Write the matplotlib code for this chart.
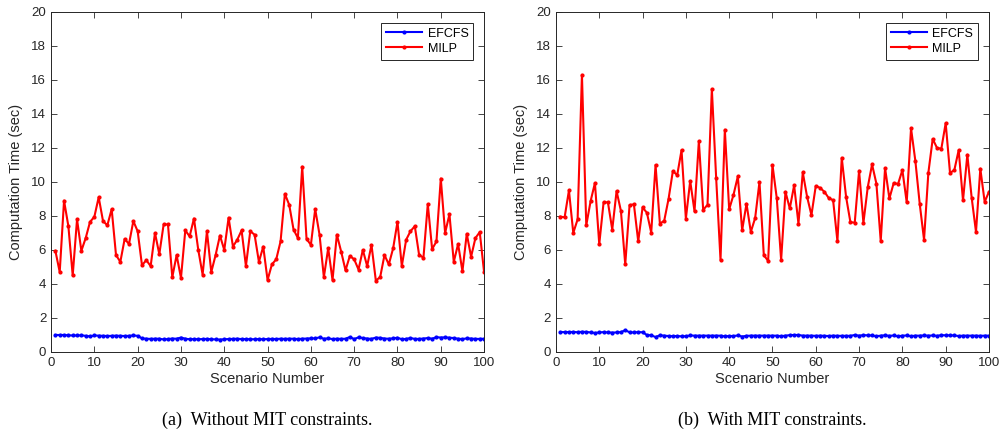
import numpy as np
import matplotlib
matplotlib.use("Agg")
import matplotlib.pyplot as plt

scenarios = np.arange(1, 101)

# (a) without MIT constraints
efcfs_a = [1.00, 1.00, 1.00, 0.98, 0.97, 0.97, 0.98, 0.95, 0.92, 0.97,
           0.96, 0.95, 0.94, 0.95, 0.96, 0.95, 0.94, 0.95, 0.97, 0.95,
           0.80, 0.78, 0.77, 0.78, 0.78, 0.74, 0.76, 0.79, 0.78, 0.85,
           0.78, 0.75, 0.76, 0.75, 0.76, 0.77, 0.75, 0.74, 0.73, 0.75,
           0.76, 0.77, 0.78, 0.76, 0.76, 0.75, 0.75, 0.76, 0.75, 0.76,
           0.77, 0.76, 0.78, 0.77, 0.78, 0.78, 0.76, 0.78, 0.79, 0.80,
           0.80, 0.86, 0.78, 0.80, 0.76, 0.78, 0.77, 0.78, 0.88, 0.76,
           0.86, 0.82, 0.79, 0.77, 0.85, 0.83, 0.79, 0.78, 0.80, 0.84,
           0.75, 0.77, 0.82, 0.77, 0.77, 0.79, 0.82, 0.78, 0.87, 0.85,
           0.86, 0.84, 0.82, 0.78, 0.76, 0.80, 0.79, 0.77, 0.77, 0.78]
milp_a = [5.95, 4.70, 8.90, 7.40, 4.50, 7.80, 5.95, 6.70, 7.65, 7.95,
          9.10, 7.70, 7.45, 8.40, 5.70, 5.30, 6.65, 6.35, 7.70, 7.10,
          5.10, 5.40, 5.05, 7.00, 5.75, 7.50, 7.50, 4.40, 5.70, 4.35,
          7.15, 6.80, 7.85, 6.00, 4.55, 7.10, 4.70, 5.70, 6.85, 6.00,
          7.90, 6.20, 6.60, 7.15, 5.05, 7.10, 6.90, 5.30, 6.20, 4.23,
          5.15, 5.45, 6.50, 9.30, 8.65, 7.20, 6.70, 10.90, 6.65, 6.30,
          8.40, 6.90, 4.40, 6.10, 4.23, 6.90, 5.90, 4.80, 5.65, 5.45,
          4.85, 6.00, 5.05, 6.30, 4.20, 4.40, 5.70, 5.15, 6.10, 7.65,
          5.05, 6.60, 7.10, 7.40, 5.70, 5.55, 8.70, 6.05, 6.50, 10.20,
          7.00, 8.10, 5.30, 6.35, 4.75, 6.95, 5.60, 6.70, 7.05, 4.70]

# (b) with MIT constraints
efcfs_b = [1.17, 1.17, 1.17, 1.18, 1.16, 1.19, 1.18, 1.15, 1.12, 1.15,
           1.17, 1.15, 1.14, 1.15, 1.17, 1.28, 1.16, 1.15, 1.17, 1.16,
           1.00, 0.98, 0.88, 0.98, 0.96, 0.94, 0.93, 0.94, 0.92, 0.93,
           0.97, 0.96, 0.96, 0.96, 0.96, 0.96, 0.96, 0.96, 0.92, 0.94,
           0.94, 0.97, 0.91, 0.95, 0.96, 0.96, 0.96, 0.96, 0.96, 0.96,
           0.96, 0.93, 0.96, 0.99, 1.00, 1.00, 0.96, 0.96, 0.96, 0.95,
           0.96, 0.95, 0.94, 0.96, 0.95, 0.95, 0.95, 0.95, 1.00, 0.96,
           0.99, 0.98, 0.97, 0.93, 0.96, 0.98, 0.95, 0.97, 0.92, 0.96,
           0.97, 0.93, 0.96, 0.96, 0.97, 0.96, 0.97, 0.95, 0.99, 0.98,
           0.98, 0.97, 0.94, 0.96, 0.96, 0.96, 0.96, 0.95, 0.96, 0.96]
milp_b = [7.96, 7.92, 9.50, 7.00, 7.80, 16.30, 7.45, 8.87, 9.94, 6.34,
          8.80, 8.80, 7.20, 9.46, 8.30, 5.15, 8.64, 8.68, 6.50, 8.50,
          8.19, 7.02, 11.00, 7.55, 7.72, 9.00, 10.64, 10.40, 11.87, 7.84,
          10.06, 8.27, 12.41, 8.35, 8.66, 15.47, 10.21, 5.41, 13.07, 8.39,
          9.24, 10.33, 7.16, 8.72, 7.06, 7.88, 10.00, 5.70, 5.35, 11.00,
          9.03, 5.41, 9.42, 8.44, 9.80, 7.55, 10.56, 9.12, 8.05, 9.77,
          9.65, 9.42, 9.05, 8.93, 6.52, 11.42, 9.12, 7.63, 7.61, 10.66,
          7.59, 9.69, 11.03, 9.90, 6.52, 10.82, 9.03, 9.94, 9.88, 10.70,
          8.80, 13.15, 11.23, 8.72, 6.60, 10.54, 12.53, 12.00, 11.96, 13.46,
          10.53, 10.70, 11.87, 8.91, 11.60, 9.07, 7.06, 10.78, 8.83, 9.42]

captions = ["(a)  Without MIT constraints.", "(b)  With MIT constraints."]

plt.rcParams['font.family'] = ['Liberation Sans', 'DejaVu Sans']
axis_color = '#262626'

fig = plt.figure(figsize=(10.01, 4.36), dpi=100)
lefts = [0.051, 0.5554]
panels = [(efcfs_a, milp_a), (efcfs_b, milp_b)]

for left, (efcfs, milp), cap in zip(lefts, panels, captions):
    ax = fig.add_axes([left, 0.1927, 0.4326, 0.780])
    ax.plot(scenarios, efcfs, color='#0000ff', lw=1.5, marker='.', ms=4, label='EFCFS')
    ax.plot(scenarios, milp, color='#ff0000', lw=1.5, marker='.', ms=4, label='MILP')
    ax.set_xlim(0, 100)
    ax.set_ylim(0, 20)
    ax.set_xticks(np.arange(0, 101, 10))
    ax.set_yticks(np.arange(0, 21, 2))
    ax.tick_params(direction='in', top=True, right=True, labelsize=9.5,
                   colors=axis_color, length=4, width=0.6)
    for s in ax.spines.values():
        s.set_color(axis_color)
        s.set_linewidth(0.7)
    ax.set_xlabel('Scenario Number', fontsize=10.5, color=axis_color, labelpad=2)
    ax.set_ylabel('Computation Time (sec)', fontsize=10.5, color=axis_color, labelpad=6)
    leg = ax.legend(loc='upper right', fontsize=9, fancybox=False, framealpha=1,
                    edgecolor=axis_color, borderaxespad=0.85, handlelength=2.9,
                    borderpad=0.4, labelspacing=0.25, handletextpad=0.45)
    leg.get_frame().set_linewidth(0.7)
    fig.text(left + 0.4326 / 2, 0.035, cap, ha='center', va='center',
             fontsize=13, family=['Liberation Serif', 'DejaVu Serif'])

fig.savefig('out.png', dpi=100)
